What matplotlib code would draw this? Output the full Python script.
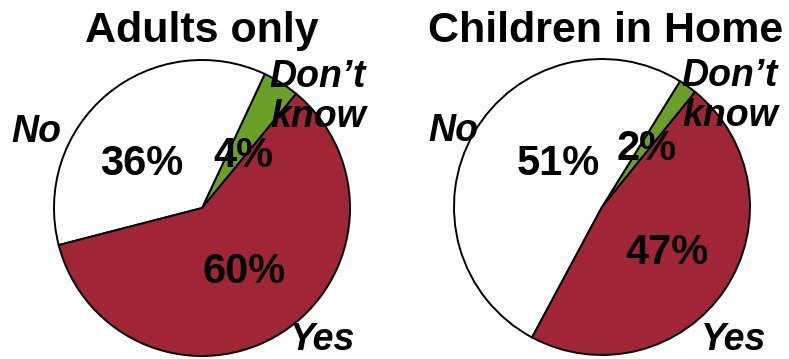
import matplotlib
matplotlib.use("Agg")
import matplotlib.pyplot as plt

# Survey responses: Don't know, No, Yes (percent)
categories = ["Don\u2019t\nknow", "No", "Yes"]
adults_only = [4, 36, 60]
children_in_home = [2, 51, 47]
titles = ["Adults only", "Children in Home"]
colors = ["#6ba028", "#ffffff", "#a02637"]

W, H = 789, 359
fig = plt.figure(figsize=(W / 100, H / 100), dpi=100)
ax = fig.add_axes([0, 0, 1, 1])
ax.set_xlim(0, W)
ax.set_ylim(0, H)
ax.set_aspect("equal")
ax.axis("off")

plt.rcParams["font.family"] = ["Liberation Sans", "DejaVu Sans"]

def y(py):
    return H - py

panels = [
    dict(values=adults_only, title=titles[0], center=(202, 208), start=50.5,
         title_pos=(202, 31),
         pct_pos=[(243, 156), (142, 164), (244, 272)],
         lab_pos=[(318, 97), (36, 132), (323, 340)]),
    dict(values=children_in_home, title=titles[1], center=(602, 207), start=51.0,
         title_pos=(606, 31),
         pct_pos=[(647, 149), (558, 164), (667, 253)],
         lab_pos=[(730, 96), (453, 131), (734, 340)]),
]

for p in panels:
    cx, cy = p["center"]
    ax.pie(p["values"], colors=colors, startangle=p["start"], counterclock=True,
           center=(cx, y(cy)), radius=148, frame=True,
           wedgeprops=dict(edgecolor="black", linewidth=1.4))
    ax.text(p["title_pos"][0], y(p["title_pos"][1]), p["title"], ha="center",
            va="center", fontsize=31, fontweight="bold")
    for v, (px, py) in zip(p["values"], p["pct_pos"]):
        ax.text(px, y(py), f"{v}%", ha="center", va="center", fontsize=30,
                fontweight="bold")
    for lab, (px, py) in zip(categories, p["lab_pos"]):
        ax.text(px, y(py), lab, ha="center", va="center", fontsize=27,
                fontweight="bold", fontstyle="italic", linespacing=1.12)

ax.set_xlim(0, W)
ax.set_ylim(0, H)
ax.axis("off")
fig.savefig("out.png", dpi=100)
